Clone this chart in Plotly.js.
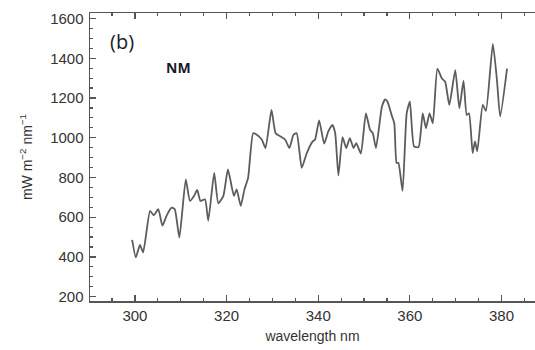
<!DOCTYPE html>
<html>
<head>
<meta charset="utf-8">
<script src="https://cdn.plot.ly/plotly-3.0.1.min.js"></script>
<style>html,body{margin:0;padding:0;background:#fff;}#chart{width:535px;height:350px;}</style>
</head>
<body>
<div id="chart"></div>
<script>
const wavelength = [299.4,300.2,301.1,301.8,303.3,304.1,305.1,306.0,306.9,308.0,308.7,309.7,311.1,312.0,312.9,313.6,314.3,315.3,316.0,317.3,318.2,319.3,320.3,321.6,322.2,323.1,323.9,324.7,325.8,326.6,327.7,328.5,329.8,330.7,331.7,332.8,333.7,334.6,335.3,336.4,337.5,338.8,339.3,340.2,341.3,342.2,343.1,343.7,344.4,345.3,346.1,346.9,347.7,348.3,349.3,350.4,351.3,351.9,352.6,353.9,354.6,355.1,356.0,356.6,357.1,357.5,358.4,359.3,360.0,360.9,361.9,362.8,363.5,364.3,365.0,366.0,367.0,367.7,368.6,369.9,370.8,371.7,372.4,372.9,373.7,374.2,374.7,375.9,376.6,378.1,379.0,379.7,381.2];
const irradiance = [486,398,460,423,632,610,640,557,607,648,640,498,790,682,707,737,682,690,582,823,670,707,840,707,740,657,740,798,1023,1015,990,948,1140,1023,1007,990,948,1015,1023,848,923,982,990,1087,970,1032,1065,1023,810,1003,948,998,948,973,920,1123,1040,1023,948,1157,1193,1182,1115,1073,873,873,732,1123,1182,957,953,1123,1048,1123,1073,1348,1298,1282,1165,1340,1148,1287,1115,1123,923,982,932,1165,1135,1473,1290,1107,1348];
const xTicks = [300,320,340,360,380];
const yTicks = [200,400,600,800,1000,1200,1400,1600];

const trace = {
  x: wavelength, y: irradiance, type: 'scatter', mode: 'lines',
  line: {color: '#5c5c5c', width: 1.8, shape: 'spline', smoothing: 0.5},
  hoverinfo: 'skip'
};
const axisFont = {family: 'Liberation Sans, Arial, sans-serif', size: 15, color: '#333'};
const layout = {
  width: 535, height: 350,
  margin: {l: 90, r: 0, t: 13, b: 49},
  paper_bgcolor: '#fff', plot_bgcolor: '#fff',
  showlegend: false,
  xaxis: {
    range: [290.2, 387.3], tickvals: xTicks, ticktext: xTicks.map(String),
    ticks: 'inside', ticklen: 6, tickwidth: 1.2, tickcolor: '#555',
    minor: {dtick: 5, tick0: 0, ticks: 'inside', ticklen: 3, tickcolor: '#555', tickwidth: 1.2},
    showline: true, linecolor: '#555', linewidth: 1.5, mirror: 'ticks',
    showgrid: false, zeroline: false, tickfont: axisFont,
    title: {text: 'wavelength nm', font: {family: 'Liberation Sans, Arial, sans-serif', size: 14, color: '#333'}, standoff: 8}
  },
  yaxis: {
    range: [178, 1628], tickvals: yTicks, ticktext: yTicks.map(String),
    ticks: 'inside', ticklen: 6, tickwidth: 1.2, tickcolor: '#555',
    minor: {dtick: 50, tick0: 0, ticks: 'inside', ticklen: 3, tickcolor: '#555', tickwidth: 1.2},
    showline: true, linecolor: '#555', linewidth: 1.5, mirror: false,
    showgrid: false, zeroline: false, tickfont: axisFont, ticklabelstandoff: 2,
    title: {text: 'mW m<sup>−2</sup> nm<sup>−1</sup>', font: {family: 'Liberation Sans, Arial, sans-serif', size: 14, color: '#333'}, standoff: 14}
  },
  annotations: [
    {text: '(b)', xref: 'paper', yref: 'paper', x: 0.04, y: 0.9, xanchor: 'left', yanchor: 'middle', showarrow: false,
     font: {family: 'Open Sans, sans-serif', size: 20, color: '#1a1a2a'}},
    {text: '<b>NM</b>', xref: 'paper', yref: 'paper', x: 0.166, y: 0.812, xanchor: 'left', yanchor: 'middle', showarrow: false,
     font: {family: 'Open Sans, sans-serif', size: 14, color: '#1a1a2a'}}
  ]
};
Plotly.newPlot('chart', [trace], layout, {staticPlot: true, displayModeBar: false});
</script>
</body>
</html>
